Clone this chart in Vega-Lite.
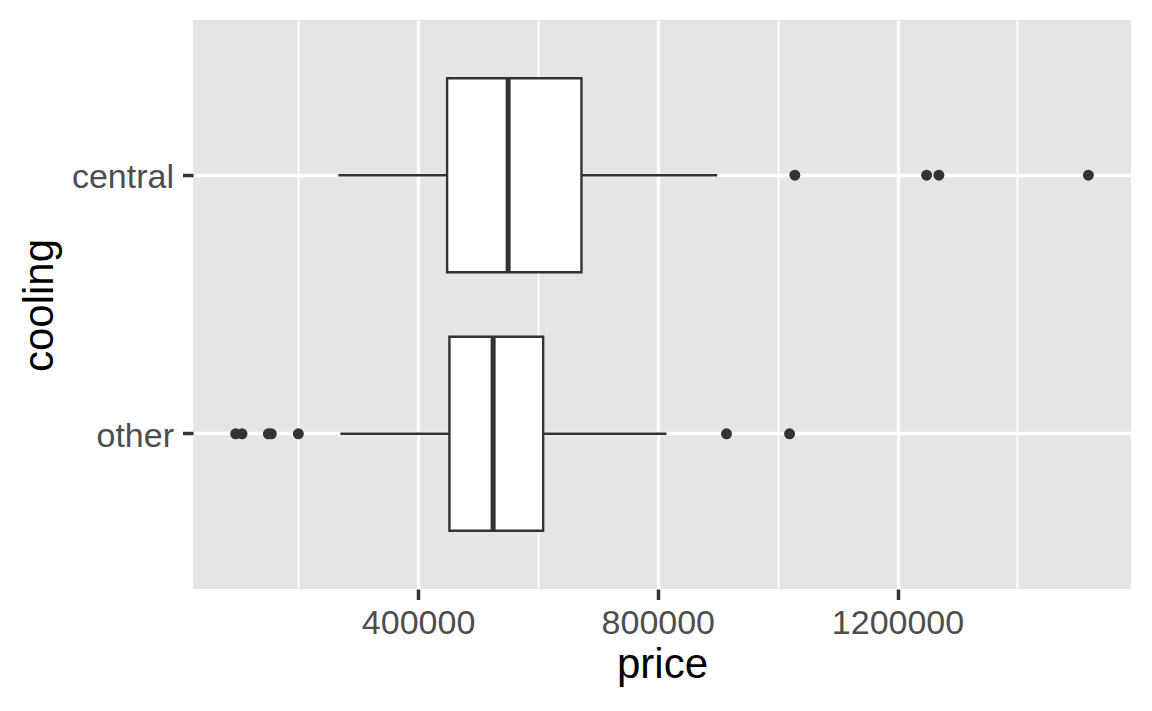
{
  "$schema": "https://vega.github.io/schema/vega-lite/v6.json",
  "width": 938,
  "height": 569,
  "autosize": {"type": "none"},
  "padding": {"left": 193, "top": 20, "right": 21, "bottom": 122},
  "background": "white",
  "datasets": {
    "stats": [
      {"cooling": "central", "lower": 266950, "q1": 448410, "median": 550250, "q3": 672620, "upper": 899150},
      {"cooling": "other", "lower": 270290, "q1": 452250, "median": 525200, "q3": 608680, "upper": 814510}
    ],
    "outliers": [
      {"cooling": "central", "price": 1028690},
      {"cooling": "central", "price": 1248550},
      {"cooling": "central", "price": 1269090},
      {"cooling": "central", "price": 1518500},
      {"cooling": "other", "price": 95500},
      {"cooling": "other", "price": 106190},
      {"cooling": "other", "price": 150090},
      {"cooling": "other", "price": 155100},
      {"cooling": "other", "price": 200170},
      {"cooling": "other", "price": 914670},
      {"cooling": "other", "price": 1019840}
    ]
  },
  "encoding": {
    "y": {
      "field": "cooling",
      "type": "nominal",
      "scale": {"paddingInner": 0.25, "paddingOuter": 0.2255},
      "axis": {
        "title": "cooling",
        "domain": false,
        "grid": true,
        "gridColor": "white",
        "gridWidth": 3.5,
        "tickColor": "#333333",
        "tickWidth": 3.5,
        "tickSize": 10.5,
        "labelFontSize": 34,
        "labelColor": "#4D4D4D",
        "labelPadding": 9,
        "labelBaseline": "middle",
        "labelOffset": 3,
        "titleFontSize": 42,
        "titleColor": "black",
        "titleAngle": 270,
        "titleBaseline": "alphabetic",
        "titleAlign": "center",
        "titleX": -141,
        "titleY": 285
      }
    }
  },
  "layer": [
    {
      "data": {"name": "stats"},
      "mark": {"type": "rule", "color": "#333333", "strokeWidth": 2.4},
      "encoding": {
        "x": {
          "field": "lower",
          "type": "quantitative",
          "scale": {"domain": [24350, 1589650], "nice": false, "zero": false},
          "axis": {
            "title": "price",
            "values": [200000, 400000, 600000, 800000, 1000000, 1200000, 1400000],
            "labelExpr": "datum.value % 400000 === 0 ? format(datum.value, 'd') : ''",
            "domain": false,
            "grid": true,
            "gridColor": "white",
            "gridWidth": {"condition": {"test": "datum.value % 400000 === 0", "value": 3.5}, "value": 1.8},
            "tickColor": {"condition": {"test": "datum.value % 400000 === 0", "value": "#333333"}, "value": "transparent"},
            "tickWidth": 3.5,
            "tickSize": 10.5,
            "labelFontSize": 34,
            "labelColor": "#4D4D4D",
            "labelPadding": 7,
            "labelBaseline": "top",
            "labelAlign": "center",
            "labelOverlap": false,
            "titleFontSize": 42,
            "titleColor": "black",
            "titleBaseline": "alphabetic",
            "titleAlign": "center",
            "titleX": 469,
            "titleY": 88
          }
        },
        "x2": {"field": "upper"}
      }
    },
    {
      "data": {"name": "stats"},
      "mark": {"type": "bar", "fill": "white", "stroke": "#333333", "strokeWidth": 2.4},
      "encoding": {
        "x": {"field": "q1", "type": "quantitative"},
        "x2": {"field": "q3"}
      }
    },
    {
      "data": {"name": "stats"},
      "mark": {"type": "tick", "orient": "vertical", "size": 194, "thickness": 5, "color": "#333333", "opacity": 1},
      "encoding": {
        "x": {"field": "median", "type": "quantitative"}
      }
    },
    {
      "data": {"name": "outliers"},
      "mark": {"type": "circle", "size": 120, "color": "#333333", "opacity": 1},
      "encoding": {
        "x": {"field": "price", "type": "quantitative"}
      }
    }
  ],
  "config": {
    "view": {"fill": "#E5E5E5", "stroke": null},
    "font": "Liberation Sans",
    "axis": {"labelFont": "Liberation Sans", "titleFont": "Liberation Sans", "titleFontWeight": "normal"}
  }
}
